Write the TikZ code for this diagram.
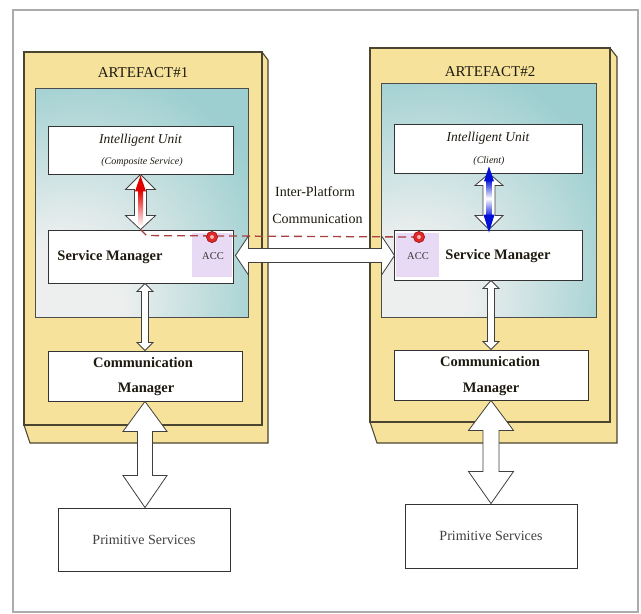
\documentclass[tikz,border=0pt]{standalone}
\usepackage{fontspec}
\setmainfont{Liberation Serif}
\usetikzlibrary{calc}

\definecolor{artyellow}{HTML}{F6E29A}
\definecolor{artedge}{HTML}{4A4430}
\definecolor{panelteal}{HTML}{9ECFD0}
\definecolor{panelpale}{HTML}{EDEFEF}
\definecolor{accviolet}{HTML}{E8DAF5}
\definecolor{linkred}{HTML}{A84040}
\definecolor{dotred}{HTML}{E02828}
\definecolor{flowred}{HTML}{E00000}
\definecolor{flowblue}{HTML}{0010D8}
\definecolor{textdark}{HTML}{1E1A10}

% teal panel, pale towards the lower left corner
\pgfdeclareradialshading{panelglow}{\pgfpoint{-22bp}{-26bp}}{%
  color(0bp)=(panelpale); color(14bp)=(panelpale); color(44bp)=(panelteal); color(100bp)=(panelteal)}

% vertical double block arrow: top, bottom, shaft half width, head half width, top head length, bottom head length
\newcommand\vblock[6]{%
  \draw[blockarrow] let \p1=#1, \p2=#2 in
    (\x1,\y1) -- (\x1+#4pt,\y1-#5pt) -- (\x1+#3pt,\y1-#5pt) -- (\x1+#3pt,\y2+#6pt)
    -- (\x1+#4pt,\y2+#6pt) -- (\x1,\y2) -- (\x1-#4pt,\y2+#6pt) -- (\x1-#3pt,\y2+#6pt)
    -- (\x1-#3pt,\y1-#5pt) -- (\x1-#4pt,\y1-#5pt) -- cycle;}
% horizontal double block arrow: left, right, shaft half width, head half width, head length
\newcommand\hblock[5]{%
  \draw[blockarrow] let \p1=#1, \p2=#2 in
    (\x1,\y1) -- (\x1+#5pt,\y1+#4pt) -- (\x1+#5pt,\y1+#3pt) -- (\x2-#5pt,\y1+#3pt)
    -- (\x2-#5pt,\y1+#4pt) -- (\x2,\y1) -- (\x2-#5pt,\y1-#4pt) -- (\x2-#5pt,\y1-#3pt)
    -- (\x1+#5pt,\y1-#3pt) -- (\x1+#5pt,\y1-#4pt) -- cycle;}

\begin{document}
\begin{tikzpicture}[x=1pt,y=-1pt,line join=miter,
  artface/.style={draw=artedge,line width=1.1pt,fill=artyellow,inner sep=0pt},
  artback/.style={draw=artedge,line width=1.1pt,fill=artyellow},
  panel/.style={draw=black!70,line width=0.9pt,shading=panelglow,inner sep=0pt},
  box/.style={draw=black!80,line width=0.9pt,fill=white,inner sep=0pt},
  accbox/.style={fill=accviolet,inner sep=0pt},
  blockarrow/.style={draw=black!75,line width=0.8pt,fill=white},
  arttitle/.style={text=textdark,font=\fontsize{15}{17}\selectfont,inner sep=0pt},
  iutitle/.style={text=textdark,font=\itshape\fontsize{13.5}{15}\selectfont,inner sep=0pt},
  iusub/.style={text=textdark,font=\itshape\fontsize{10}{12}\selectfont,inner sep=0pt},
  boldtext/.style={text=textdark,font=\bfseries\fontsize{14.5}{16}\selectfont,inner sep=0pt},
  acctext/.style={text=black!80,font=\fontsize{10.5}{12}\selectfont,inner sep=0pt},
  plaintext/.style={text=black!75,font=\fontsize{14}{16}\selectfont,inner sep=0pt},
  linktext/.style={text=textdark,font=\fontsize{14}{16}\selectfont,inner sep=0pt},
  accdot/.style={circle,fill=dotred,draw=dotred!70!black,line width=0.5pt,minimum size=11pt,inner sep=0pt},
  acclink/.style={draw=linkred,line width=1.3pt,dash pattern=on 8pt off 5pt}]

\useasboundingbox (0,0) rectangle (641,614);
\fill[white] (0,0) rectangle (641,614);
\node[draw=gray!65,line width=1.6pt,minimum width=625,minimum height=602,inner sep=0pt] (frame) at (325.5,311) {};

% ---- Artefact 1 ----
\draw[artback] (24,425) -- (30,443) -- (268,443) -- (268,60) -- (262,52) -- cycle;
\node[artface,minimum width=238,minimum height=373] (art1) at (143,238.5) {};
\node[arttitle] (art1t) at (143,73) {ARTEFACT\#1};
\node[panel,minimum width=213,minimum height=229] (pan1) at (141.5,202.5) {};

\node[box,minimum width=185,minimum height=48] (iu1) at (140.5,150) {};
\node[iutitle] (iu1a) at (140.5,140) {Intelligent Unit};
\node[iusub] (iu1b) at (142,162) {(Composite Service)};

\node[box,minimum width=185,minimum height=53] (sm1) at (140.5,256.5) {};
\node[accbox,minimum width=40,minimum height=44] (acc1) at (212,255) {};
\node[boldtext] (sm1t) at (110,257) {Service Manager};
\node[acctext] (acc1t) at (213,256) {ACC};

\node[box,minimum width=194,minimum height=50] (cm1) at (145,376) {};
\node[boldtext] (cm1a) at (143,363) {Communication};
\node[boldtext] (cm1b) at (146,389) {Manager};

\node[box,minimum width=172,minimum height=63] (ps1) at (144,539.5) {};
\node[plaintext] (ps1t) at (144,540) {Primitive Services};

% ---- Artefact 2 ----
\draw[artback] (370,422) -- (377,443) -- (617,443) -- (617,57) -- (610,48) -- cycle;
\node[artface,minimum width=240,minimum height=374] (art2) at (490,235) {};
\node[arttitle] (art2t) at (490,72) {ARTEFACT\#2};
\node[panel,minimum width=215,minimum height=234] (pan2) at (488.5,200) {};

\node[box,minimum width=188,minimum height=49] (iu2) at (488,148.5) {};
\node[iutitle] (iu2a) at (488,138) {Intelligent Unit};
\node[iusub] (iu2b) at (489,161) {(Client)};

\node[box,minimum width=188,minimum height=50] (sm2) at (488,255) {};
\node[accbox,minimum width=43,minimum height=44] (acc2) at (417.5,255) {};
\node[boldtext] (sm2t) at (498,256) {Service Manager};
\node[acctext] (acc2t) at (418,256) {ACC};

\node[box,minimum width=194,minimum height=50] (cm2) at (491,375) {};
\node[boldtext] (cm2a) at (490,362) {Communication};
\node[boldtext] (cm2b) at (491,389) {Manager};

\node[box,minimum width=172,minimum height=64] (ps2) at (491,536) {};
\node[plaintext] (ps2t) at (491,536) {Primitive Services};

% ---- link between the platforms ----
\node[linktext] (ipc1) at (315,192) {Inter-Platform};
\node[linktext] (ipc2) at (317.5,219) {Communication};

% ---- block arrows ----
\vblock{(iu1.south)}{(sm1.north)}{6}{15}{15}{14}
\vblock{(sm1.south -| cm1.north)}{(cm1.north)}{3.5}{8}{8}{8}
\vblock{(cm1.south)}{(cm1.south |- ps1.north)}{7.5}{22}{30}{32}

\vblock{($(iu2.south)+(1,0)$)}{($(sm2.north)+(1,0)$)}{6}{14}{12}{14}
\vblock{(sm2.south -| cm2.north)}{(cm2.north)}{3.5}{8}{8}{8}
\vblock{(cm2.south)}{(cm2.south |- ps2.north)}{8}{22.5}{30}{32}

\hblock{($(sm1.east |- acc1.east)+(2,0.5)$)}{($(sm2.west)+(1,0)$)}{7}{19.5}{13}

% ---- flows inside the unit/manager links ----
\shade[top color=flowred,bottom color=white] ($(iu1.south)+(-2.5,16)$) rectangle ($(iu1.south)+(2.5,52)$);
\fill[flowred] ($(iu1.south)+(0,1)$) -- ++(5.5,16) -- ++(-11,0) -- cycle;

\shade[top color=flowblue,bottom color=flowblue,middle color=white] ($(iu2.south)+(-1.5,6)$) rectangle ($(iu2.south)+(3.5,44)$);
\fill[flowblue] ($(iu2.south)+(1,-7)$) -- ++(5,15) -- ++(-10,0) -- cycle;
\fill[flowblue] ($(sm2.north)+(1,3)$) -- ++(5.5,-18) -- ++(-11,0) -- cycle;

% ---- ACC link ----
\node[accdot] (dot1) at (212,237) {};
\node[accdot] (dot2) at (419,237) {};
\draw[acclink] (sm1.north) -- ++(6,6) -- (dot2.west);
\node[accdot] at (dot1) {};
\node[accdot] at (dot2) {};
\fill[white!65!dotred] (dot1) circle (2pt);
\fill[white!65!dotred] (dot2) circle (2pt);
\end{tikzpicture}
\end{document}
